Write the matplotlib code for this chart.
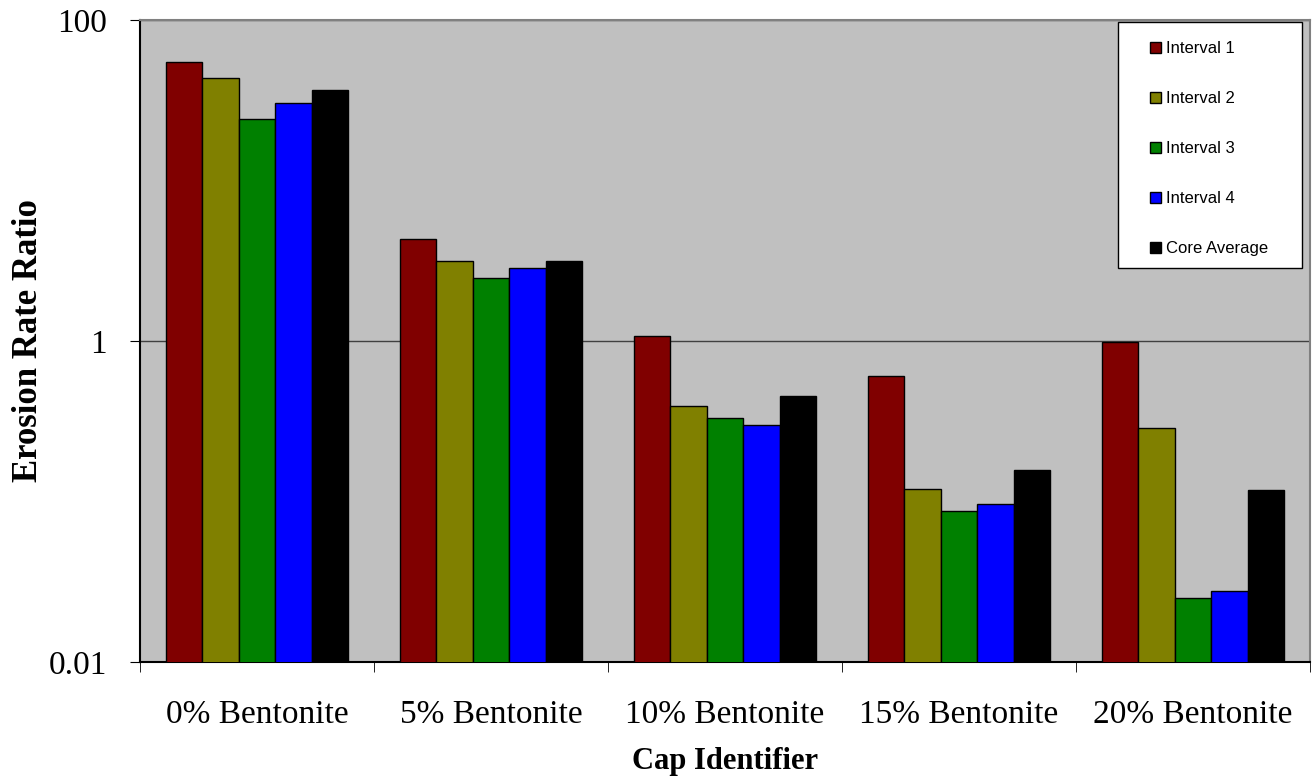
import numpy as np
import matplotlib.pyplot as plt
from matplotlib.patches import Rectangle
from matplotlib.ticker import FixedLocator, FixedFormatter

# --- Data ---
categories = ['0% Bentonite', '5% Bentonite', '10% Bentonite', '15% Bentonite', '20% Bentonite']
series_names = ['Interval 1', 'Interval 2', 'Interval 3', 'Interval 4', 'Core Average']
interval_1 = [54.8, 4.32, 1.07, 0.605, 0.982]
interval_2 = [43.3, 3.14, 0.395, 0.120, 0.288]
interval_3 = [24.2, 2.48, 0.330, 0.0873, 0.0251]
interval_4 = [30.5, 2.84, 0.298, 0.0965, 0.0277]
core_average = [36.8, 3.15, 0.454, 0.158, 0.1186]
y_ticks = [0.01, 1, 100]
y_tick_labels = ['0.01', '1', '100']

colors = ['#800000', '#808000', '#008000', '#0000FF', '#000000']


def main():
    series = [interval_1, interval_2, interval_3, interval_4, core_average]

    fig = plt.figure(figsize=(13.12, 7.8), dpi=100)
    ax = fig.add_axes([140 / 1312, 1 - 662 / 780, 1170 / 1312, 642 / 780])
    ax.set_facecolor('#C0C0C0')

    x = np.arange(len(categories))
    width = 0.1556
    for i, (vals, name, col) in enumerate(zip(series, series_names, colors)):
        offset = (i - 2) * width
        ax.bar(x + offset, vals, width, color=col, edgecolor='black',
               linewidth=1.0, label=name, zorder=3)

    ax.set_yscale('log')
    ax.set_ylim(0.01, 100)
    ax.set_xlim(-0.5, len(categories) - 0.5)

    # y axis: only every second decade
    ax.yaxis.set_major_locator(FixedLocator(y_ticks))
    ax.yaxis.set_major_formatter(FixedFormatter(y_tick_labels))
    ax.yaxis.set_minor_locator(FixedLocator([]))
    ax.grid(axis='y', which='major', color='#404040', linewidth=1.0, zorder=1)

    # x axis: labels centred, tick marks at the category boundaries
    ax.set_xticks(x)
    ax.set_xticklabels(categories)
    ax.set_xticks(np.arange(len(categories) + 1) - 0.5, minor=True)
    ax.tick_params(axis='x', which='major', length=0, pad=27)
    ax.tick_params(axis='x', which='minor', length=7, direction='out', color='black')
    ax.tick_params(axis='y', which='major', length=7, direction='out', pad=17)

    for lab in ax.get_xticklabels() + ax.get_yticklabels():
        lab.set_fontfamily('Liberation Serif')
        lab.set_fontsize(24)

    ax.set_ylabel('Erosion Rate Ratio', fontfamily='Liberation Serif',
                  fontsize=25, fontweight='bold')
    ax.yaxis.set_label_coords(-0.0815, 0.5)
    ax.set_xlabel('Cap Identifier', fontfamily='Liberation Serif',
                  fontsize=22, fontweight='bold', labelpad=12)

    ax.spines['left'].set_color('black')
    ax.spines['bottom'].set_color('black')
    ax.spines['top'].set_color('#808080')
    ax.spines['right'].set_color('#808080')
    for s in ax.spines.values():
        s.set_linewidth(1.5)

    # legend box drawn separately so its padding can differ per side
    box = Rectangle((0.8359, 0.6137), 0.1573, 0.3832, transform=ax.transAxes,
                    facecolor='white', edgecolor='black', linewidth=1.0, zorder=4)
    ax.add_patch(box)
    leg = ax.legend(loc='upper left', bbox_to_anchor=(0.8632, 0.9673),
                    prop={'family': 'Liberation Sans', 'size': 12},
                    handlelength=0.65, handleheight=0.65, handletextpad=0.3,
                    labelspacing=2.1, borderpad=0, borderaxespad=0,
                    frameon=False)
    leg.set_zorder(5)

    fig.savefig('out.png', dpi=100)


if __name__ == '__main__':
    main()
